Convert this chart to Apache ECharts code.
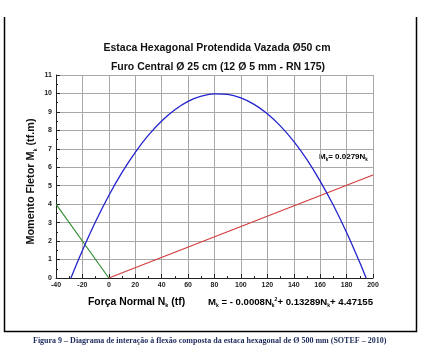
<!DOCTYPE html>
<html>
<head>
<meta charset="utf-8">
<script src="https://cdn.jsdelivr.net/npm/echarts@6/dist/echarts.min.js"></script>
<style>
  html, body { margin: 0; padding: 0; background: #fff; }
  #chart { width: 421px; height: 349px; }
</style>
</head>
<body>
<div id="chart"></div>
<script>
// Interaction diagram: bending moment Mk (tf.m) versus normal force Nk (tf)
const xTicks = [-40, -20, 0, 20, 40, 60, 80, 100, 120, 140, 160, 180, 200];
const yTicks = [0, 1, 2, 3, 4, 5, 6, 7, 8, 9, 10, 11];

// Resistance envelope (blue)
const envelopeN = [-28.7, -20, -10, 0, 10, 20, 30, 40, 50, 60, 70, 80, 90, 100, 110, 120, 130, 140, 150, 160, 170, 180, 190, 194.8];
const envelopeM = [0, 1.49, 3.06, 4.47, 5.72, 6.81, 7.74, 8.51, 9.12, 9.57, 9.85, 9.98, 9.95, 9.76, 9.41, 8.90, 8.23, 7.40, 6.41, 5.25, 3.94, 2.47, 0.84, 0];

// Minimum eccentricity line Mk = 0.0279 Nk (red)
const eccN = [0, 200];
const eccM = [0, 5.58];

// Tension branch (green)
const tensionN = [-40, 0];
const tensionM = [4, 0];

const toPairs = (xs, ys) => xs.map((x, i) => [x, ys[i]]);

const boldFont = 'Liberation Sans, Arial, sans-serif';
const chart = echarts.init(document.getElementById('chart'), null, { renderer: 'canvas' });

// rich styles for text with a subscript "k" and a superscript
function richSub(size, subSize) {
  return {
    b: { fontFamily: boldFont, fontWeight: 'bold', fontSize: size, color: '#111', lineHeight: size + 2, verticalAlign: 'bottom' },
    s: { fontFamily: boldFont, fontWeight: 'bold', fontSize: subSize, color: '#111', lineHeight: size + 2, verticalAlign: 'bottom', padding: [0, 0, -1, 0] },
    p: { fontFamily: boldFont, fontWeight: 'bold', fontSize: subSize, color: '#111', lineHeight: size + 2, verticalAlign: 'top', padding: [1, 0, 0, 0] }
  };
}

chart.setOption({
  animation: false,
  backgroundColor: '#fff',
  grid: { left: 56, right: 48, top: 75, bottom: 71, containLabel: false },
  title: [
    {
      text: 'Estaca Hexagonal Protendida Vazada Ø50 cm',
      left: 212, top: 38, textAlign: 'center',
      textStyle: { fontFamily: boldFont, fontWeight: 'bold', fontSize: 10.5, color: '#111' }
    },
    {
      text: 'Furo Central Ø 25 cm (12 Ø 5 mm - RN 175)',
      left: 213, top: 57, textAlign: 'center',
      textStyle: { fontFamily: boldFont, fontWeight: 'bold', fontSize: 10.5, color: '#111' }
    }
  ],
  xAxis: {
    type: 'value',
    min: xTicks[0], max: xTicks[xTicks.length - 1], interval: 20,
    axisLine: { show: true, onZero: false, lineStyle: { color: '#222', width: 1 } },
    axisTick: { show: true, inside: true, length: 4, lineStyle: { color: '#222' } },
    minorTick: { show: true, splitNumber: 2, length: 2, lineStyle: { color: '#222' } },
    axisLabel: {
      margin: 4, fontFamily: boldFont, fontWeight: 'bold', fontSize: 7, color: '#222',
      formatter: v => String(v)
    },
    splitLine: { show: true, lineStyle: { color: '#a8a8a8', width: 1 } }
  },
  yAxis: {
    type: 'value',
    min: yTicks[0], max: yTicks[yTicks.length - 1], interval: 1,
    axisLine: { show: true, onZero: false, lineStyle: { color: '#222', width: 1 } },
    axisTick: { show: true, inside: true, length: 4, lineStyle: { color: '#222' } },
    minorTick: { show: true, splitNumber: 2, length: 2, lineStyle: { color: '#222' } },
    axisLabel: {
      margin: 4, fontFamily: boldFont, fontWeight: 'bold', fontSize: 7, color: '#222'
    },
    splitLine: { show: true, lineStyle: { color: '#a8a8a8', width: 1 } },
    name: '{b|Momento Fletor M}{s|k}{b| (tf.m)}',
    nameLocation: 'middle',
    nameGap: 19,
    nameRotate: 90,
    nameMoveOverlap: false,
    nameTextStyle: { rich: richSub(10.8, 5.5), padding: [0, 10, 0, 0] }
  },
  graphic: [
    // frame around the figure
    { type: 'polyline', shape: { points: [[4.5, 17], [4.5, 331.5], [416.5, 331.5], [416.5, 17]] },
      style: { stroke: '#000', lineWidth: 1.5, fill: null }, silent: true },
    // x axis title
    { type: 'text', left: 88, top: 297,
      style: { text: '{b|Força Normal N}{s|k}{b| (tf)}', rich: richSub(10.4, 5.5) } },
    // envelope equation
    { type: 'text', left: 208, top: 296,
      style: {
        text: '{b|M}{s|k}{b| = - 0.0008N}{s|k}{p|2}{b|+ 0.13289N}{s|k}{b|+ 4.47155}',
        rich: richSub(9.6, 5)
      } },
    // eccentricity line label
    { type: 'text', left: 319, top: 153,
      style: {
        text: '{b|M}{s|k}{b|= 0.0279N}{s|k}',
        rich: richSub(8, 4.5)
      } },
    // figure caption
    { type: 'text', left: 33, top: 337,
      style: {
        text: 'Figura 9 – Diagrama de interação à flexão composta da estaca hexagonal de Ø 500 mm (SOTEF – 2010)',
        fontFamily: 'Liberation Serif, Times New Roman, serif', fontWeight: 'bold', fontSize: 8, fill: '#1c2a5a'
      } }
  ],
  series: [
    {
      type: 'line', data: toPairs(envelopeN, envelopeM), smooth: 0.4, showSymbol: false,
      lineStyle: { color: '#2323cf', width: 1.3 }, z: 3
    },
    {
      type: 'line', data: toPairs(eccN, eccM), showSymbol: false,
      lineStyle: { color: '#d23a3a', width: 1.1 }, z: 2
    },
    {
      type: 'line', data: toPairs(tensionN, tensionM), showSymbol: false,
      lineStyle: { color: '#2e8a2e', width: 1.1 }, z: 2
    }
  ]
});
</script>
</body>
</html>
